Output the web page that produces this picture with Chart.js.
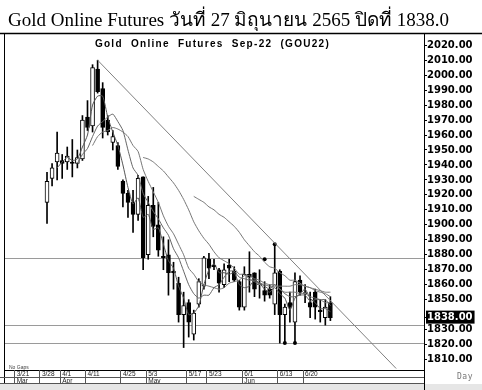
<!DOCTYPE html>
<html><head><meta charset="utf-8">
<script src="https://cdn.jsdelivr.net/npm/chart.js@4"></script>
<style>
html,body{margin:0;padding:0;background:#fff;width:482px;height:390px;overflow:hidden;}
#wrap{position:relative;width:482px;height:390px;}
#c{position:absolute;left:0;top:0;}
.t{position:absolute;white-space:nowrap;pointer-events:none;}
#title{left:8px;top:4px;font-family:'Liberation Serif','Times New Roman',serif;font-size:19px;color:#000;}
#sub{left:1px;width:423px;top:38px;text-align:center;font-family:'Liberation Sans',Arial,sans-serif;font-weight:bold;font-size:10px;letter-spacing:1.3px;word-spacing:4px;color:#000;}
#day{left:457px;top:372px;font-family:'DejaVu Sans Mono',monospace;font-size:8px;color:#777;letter-spacing:0.5px;}
#nogaps{left:9px;top:364px;font-family:'Liberation Sans',Arial,sans-serif;font-size:5px;color:#444;}
</style></head>
<body><div id="wrap">
<canvas id="c" width="482" height="390"></canvas>
<div class="t" id="title">Gold Online Futures วันที่ 27 มิถุนายน 2565 ปิดที่ 1838.0</div>
<div class="t" id="sub">Gold Online Futures Sep-22 (GOU22)</div>
<div class="t" id="nogaps">No Gaps</div>
<div class="t" id="day">Day</div>
</div>
<script>
// Trading days (slots) shown on the axis
const slotDates = ['3/17','3/18','3/21','3/22','3/23','3/24','3/25','3/28','3/29','3/30','3/31','4/1','4/4','4/5','4/7','4/8','4/11','4/12','4/18','4/19','4/20','4/21','4/22','4/25','4/26','4/27','4/28','4/29','5/3','5/5','5/6','5/9','5/10','5/11','5/12','5/13','5/17','5/18','5/19','5/20','5/23','5/24','5/25','5/26','5/27','5/30','5/31','6/1','6/2','6/6','6/7','6/8','6/9','6/10','6/13','6/14','6/15','6/16','6/17','6/20','6/21','6/22','6/23','6/24','6/27'];
const futureSlots = 18;
const firstCandleDate = '3/29';
const dateTicks = ['3/21','3/28','4/1','4/11','4/25','5/3','5/17','5/23','6/1','6/13','6/20'];
const monthTicks = {'3/21':'Mar','4/1':'Apr','5/3':'May','6/1':'Jun'};

// OHLC (from 3/29 to 6/27)
const open  = [1915,1931,1942,1943,1942,1942,1941,1944,1972,1966,2004,1991,1970,1955,1953,1929,1921,1915,1907,1932,1880,1913,1900,1879,1880,1869,1861,1840,1848,1827,1847,1859,1877,1873,1870,1860,1873,1869,1862,1845,1867,1868,1860,1856,1857,1847,1869,1840,1848,1835,1863,1854,1848,1855,1843,1838,1848];
const high  = [1935,1941,1962,1947,1952,1957,1950,1973,1983,2007,2010,1995,1973,1963,1955,1930,1923,1923,1933,1932,1919,1925,1915,1892,1890,1875,1865,1855,1850,1843,1864,1879,1881,1877,1871,1874,1877,1872,1863,1872,1882,1868,1870,1862,1860,1887,1870,1847,1855,1868,1866,1860,1855,1857,1850,1850,1852];
const low   = [1901,1926,1930,1931,1937,1932,1938,1943,1963,1962,1988,1958,1960,1950,1937,1912,1905,1895,1903,1870,1877,1892,1879,1870,1853,1857,1835,1818,1825,1823,1845,1857,1864,1870,1855,1858,1862,1862,1843,1843,1855,1852,1851,1849,1851,1840,1821,1821,1835,1822,1853,1848,1838,1837,1835,1833,1836];
const close = [1929,1938,1948,1941,1946,1941,1945,1970,1965,2005,1989,1965,1962,1959,1939,1921,1915,1907,1931,1878,1913,1899,1883,1878,1868,1868,1840,1846,1835,1841,1862,1878,1871,1872,1861,1870,1871,1863,1845,1867,1865,1857,1860,1853,1853,1868,1840,1845,1845,1862,1855,1854,1845,1845,1842,1845,1838];

// Moving averages (read per candle)
const ma3  = [null,null,1938,1942,1945,1943,1944,1952,1960,1980,1986,1986,1972,1962,1953,1940,1925,1914,1918,1905,1907,1897,1898,1887,1876,1871,1859,1851,1840,1841,1846,1860,1870,1874,1868,1868,1867,1868,1860,1858,1859,1863,1861,1857,1855,1858,1854,1851,1843,1851,1854,1857,1851,1848,1844,1844,1842];
const ma7  = [null,null,null,null,null,null,1941,1947,1951,1959,1966,1969,1972,1974,1969,1963,1950,1938,1933,1921,1915,1909,1904,1898,1893,1884,1878,1869,1860,1854,1851,1853,1853,1858,1860,1865,1869,1869,1865,1864,1863,1863,1861,1859,1857,1860,1857,1854,1852,1852,1853,1853,1849,1850,1850,1850,1846];
const ma10 = [null,null,null,null,null,null,null,null,null,1953,1959,1962,1963,1965,1964,1962,1959,1953,1949,1937,1929,1922,1915,1906,1899,1894,1887,1880,1871,1867,1862,1860,1859,1858,1857,1858,1861,1862,1863,1866,1866,1864,1863,1861,1860,1860,1857,1855,1855,1855,1854,1854,1852,1851,1850,1848,1848];
const ma20 = [null,null,null,null,null,null,null,null,null,null,null,null,null,null,null,null,null,null,null,1945,1944,1942,1939,1936,1932,1928,1923,1917,1910,1902,1896,1891,1887,1882,1878,1876,1874,1871,1867,1867,1864,1862,1861,1860,1859,1859,1859,1859,1859,1860,1860,1859,1858,1856,1855,1854,1852];
const ma30 = [null,null,null,null,null,null,null,null,null,null,null,null,null,null,null,null,null,null,null,null,null,null,null,null,null,null,null,null,null,1919,1917,1915,1912,1910,1907,1905,1902,1899,1895,1890,1886,1882,1879,1875,1872,1871,1868,1866,1863,1863,1861,1859,1858,1857,1856,1855,1855];

// Trend line end points [slot index, price], horizontal levels, markers
const trendPoints = [[18, 2010], [77, 1804]];
const levels = [1878, 1833, 1821];
const markers = [['6/8',1877],['6/10',1887],['6/14',1821],['6/16',1821]];

// Price axis
const yTickValues = [2020,2010,2000,1990,1980,1970,1960,1950,1940,1930,1920,1910,1900,1890,1880,1870,1860,1850,1830,1820,1810];
const lastClose = 1838;
const yMin = 1803, yMax = 2027.5;

// ---------- build ----------
const labels = slotDates.concat(Array(futureSlots).fill(''));
const N = labels.length;
const first = slotDates.indexOf(firstCandleDate);
function pad(arr){ const out = Array(N).fill(null); arr.forEach((v,i)=>{ out[first+i] = v; }); return out; }
const trendData = Array(N).fill(null);
trendPoints.forEach(p => { trendData[p[0]] = p[1]; });
const markerData = Array(N).fill(null);
markers.forEach(m => { markerData[slotDates.indexOf(m[0])] = m[1]; });

function maSet(arr, color){
  return {type:'line', data: pad(arr), borderColor: color, borderWidth: 1, pointRadius: 0, fill:false, order: 0, tension: 0.2};
}

const framePlugin = {
  id: 'frame',
  beforeDraw(chart){
    const ctx = chart.ctx;
    ctx.save();
    ctx.fillStyle = '#fff';
    ctx.fillRect(0,0,chart.width,chart.height);
    ctx.restore();
  },
  beforeDatasetsDraw(chart){
    const {ctx, chartArea:a, scales:{y}} = chart;
    ctx.save();
    ctx.strokeStyle = '#9a9a9a'; ctx.lineWidth = 1;
    levels.forEach(v => {
      const py = Math.round(y.getPixelForValue(v)) + 0.5;
      ctx.beginPath(); ctx.moveTo(a.left, py); ctx.lineTo(a.right, py); ctx.stroke();
    });
    ctx.restore();
  },
  afterDraw(chart){
    const {ctx, chartArea:a, scales:{x}} = chart;
    ctx.save();
    // bottom grey strip
    ctx.fillStyle = '#e6e6e6';
    ctx.fillRect(0, a.bottom + 14, chart.width, chart.height - a.bottom - 14);
    ctx.strokeStyle = '#000'; ctx.lineWidth = 1.5;
    ctx.beginPath(); ctx.moveTo(0, a.top - 0.5); ctx.lineTo(chart.width, a.top - 0.5); ctx.stroke();
    ctx.lineWidth = 1;
    ctx.beginPath(); ctx.moveTo(a.left + 0.5, a.top); ctx.lineTo(a.left + 0.5, a.bottom + 14); ctx.stroke();
    ctx.beginPath(); ctx.moveTo(a.right + 0.5, a.top); ctx.lineTo(a.right + 0.5, chart.height); ctx.stroke();
    ctx.strokeStyle = '#555';
    [7.5, 13.5].forEach(d => {
      ctx.beginPath(); ctx.moveTo(0, a.bottom + d); ctx.lineTo(a.right, a.bottom + d); ctx.stroke();
    });
    const half = (x.getPixelForValue(1) - x.getPixelForValue(0)) / 2;
    dateTicks.forEach(d => {
      const i = labels.indexOf(d);
      const px = Math.round(x.getPixelForValue(i) - half) + 0.5;
      ctx.beginPath(); ctx.moveTo(px, a.bottom); ctx.lineTo(px, a.bottom + 13); ctx.stroke();
    });
    ctx.restore();
  }
};

new Chart(document.getElementById('c'), {
  data: {
    labels,
    datasets: [
      maSet(ma3, '#555'),
      maSet(ma7, '#666'),
      maSet(ma10, '#777'),
      maSet(ma20, '#777'),
      maSet(ma30, '#777'),
      {type:'line', data: trendData, spanGaps: true, borderColor:'#808080', borderWidth:1, pointRadius:0, order:0},
      {type:'line', data: markerData, showLine:false, pointRadius:2, pointBackgroundColor:'#000', pointBorderWidth:0, order:0},
      {type:'bar', data: pad(open.map((o,i)=>[o, close[i]])), grouped:false, barThickness:4, minBarLength:1,
        backgroundColor: c => { const i = c.dataIndex - first; return close[i] >= open[i] ? '#fff' : '#000'; },
        borderColor:'#000', borderWidth:1, borderSkipped:false, order:1},
      {type:'bar', data: pad(low.map((l,i)=>[l, high[i]])), grouped:false, barThickness:1, backgroundColor:'#000', borderWidth:0, order:2}
    ]
  },
  options: {
    responsive:false, animation:false, devicePixelRatio:1,
    layout:{padding:{top:34,left:1,right:0,bottom:0}},
    plugins:{legend:{display:false}, tooltip:{enabled:false}, title:{display:false}},
    scales:{
      x:{type:'category', offset:true,
        afterFit: s => { s.height = 20; },
        grid:{display:false, drawTicks:false, drawOnChartArea:false},
        border:{display:true, color:'#000', width:1},
        ticks:{autoSkip:false, maxRotation:0, minRotation:0, align:'start', padding:1,
          font:{family:'Liberation Sans', size:6.5, lineHeight:1.0}, color:'#222',
          callback:(v,i) => { const d = labels[i]; if (!dateTicks.includes(d)) return ''; return [d, monthTicks[d] || '']; }}
      },
      y:{position:'right', min:yMin, max:yMax,
        afterBuildTicks: s => { s.ticks = yTickValues.concat([lastClose]).sort((a,b)=>b-a).map(v=>({value:v})); },
        afterFit: s => { s.width = 58; },
        grid:{drawOnChartArea:false, drawTicks:true, tickLength:3, color:'#000'},
        border:{display:true, color:'#000', width:1},
        ticks:{padding:0, font:{family:'DejaVu Sans', weight:'bold', size:10},
          color: c => (c.tick && c.tick.value === lastClose) ? '#fff' : '#000',
          showLabelBackdrop: c => !!(c.tick && c.tick.value === lastClose),
          backdropColor:'#000', backdropPadding:{left:1,right:2,top:1,bottom:0},
          callback: v => Number(v).toFixed(2)}
      }
    }
  },
  plugins:[framePlugin]
});
</script>
</body></html>
